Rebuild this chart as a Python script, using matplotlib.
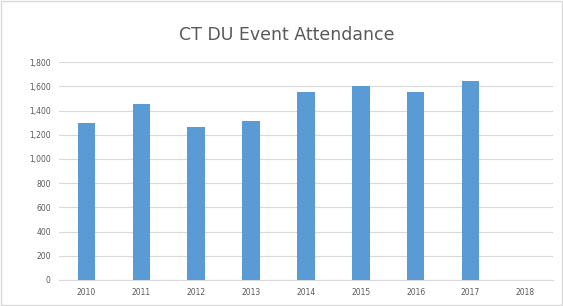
import numpy as np
import matplotlib
matplotlib.use('Agg')
import matplotlib.pyplot as plt

# 读数
years = ['2010', '2011', '2012', '2013', '2014', '2015', '2016', '2017', '2018']
attendance = [1300, 1450, 1265, 1315, 1555, 1600, 1555, 1645, 0]
y_ticks = list(range(0, 1801, 200))

fig = plt.figure(figsize=(5.63, 3.06), dpi=100)
ax = fig.add_axes([0.105, 0.085, 0.877, 0.712])

x = np.arange(len(years))
ax.bar(x, attendance, width=0.32, color='#5B9BD5', zorder=3)

ax.set_xlim(-0.5, len(years) - 0.5)
ax.set_ylim(0, 1800)
ax.set_yticks(y_ticks)
ax.set_yticklabels(['{:,}'.format(v) for v in y_ticks])
ax.set_xticks(x)
ax.set_xticklabels(years)
ax.tick_params(length=0, labelsize=5.5, labelcolor='#595959', pad=6)
ax.grid(axis='y', color='#D9D9D9', linewidth=0.8, zorder=0)
for s in ['top', 'right', 'left']:
    ax.spines[s].set_visible(False)
ax.spines['bottom'].set_color('#D9D9D9')

fig.text(0.51, 0.885, 'CT DU Event Attendance', ha='center', va='center',
         fontsize=12.5, color='#595959')

# 外框
fig.patches.append(plt.Rectangle((0.002, 0.003), 0.996, 0.994, transform=fig.transFigure,
                                 fill=False, edgecolor='#D9D9D9', linewidth=1))

plt.savefig('out.png', dpi=100)
